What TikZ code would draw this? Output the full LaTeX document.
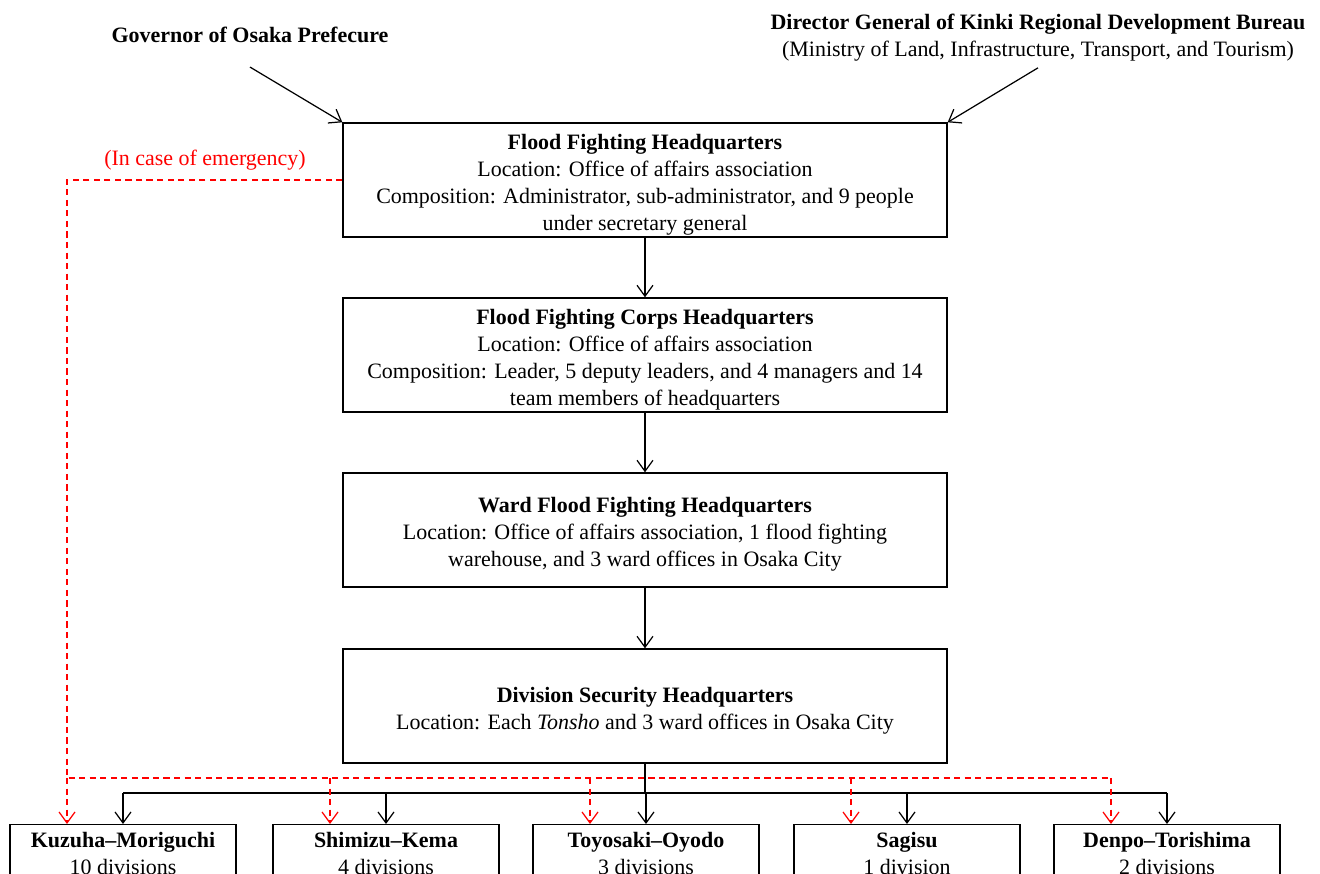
\documentclass[tikz,border=0pt]{standalone}
\usepackage{fontspec}
\setmainfont{Liberation Serif}
\usetikzlibrary{positioning, calc, arrows.meta}

\newcommand{\hqtitle}[1]{\rule{0pt}{14pt}\textbf{#1}}

\begin{document}
\begin{tikzpicture}[
    x=0.02cm, y=-0.02cm,
    hq/.style={rectangle, draw=black, line width=0.8pt, minimum width=12.08cm, minimum height=2.28cm, inner ysep=0pt, align=center, font=\fontsize{12.5}{15.4}\selectfont},
    branch/.style={rectangle, draw=black, line width=0.8pt, minimum width=4.52cm, minimum height=2cm, anchor=north, align=center, inner ysep=0.15cm, text depth=1.2cm, font=\fontsize{12.5}{15.4}\selectfont},
    arrow/.style={-{Straight Barb[length=2.2mm, width=3.2mm]}, line width=0.7pt, black},
    link/.style={line width=0.7pt, black},
    emerg/.style={red, line width=0.7pt, dash pattern=on 3.5pt off 2.5pt}
]
    \useasboundingbox (0,0) rectangle (1320,874);
    \clip (0,0) rectangle (1320,874);

    % Top authorities
    \node[font=\bfseries\fontsize{12.5}{15.4}\selectfont] (gov) at (250,35) {Governor of Osaka Prefecure};
    \node[align=center, font=\fontsize{12.5}{15.4}\selectfont] (dir) at (1038,38)
        {\textbf{Director General of Kinki Regional Development Bureau}\\(Ministry of Land, Infrastructure, Transport, and Tourism)};

    % Headquarters
    \node[hq] (fhq) at (645,180) {\hqtitle{Flood Fighting Headquarters}\\Location: Office of affairs association\\Composition: Administrator, sub-administrator, and 9 people\\under secretary general};
    \node[hq] (fchq) at (645,355) {\hqtitle{Flood Fighting Corps Headquarters}\\Location: Office of affairs association\\Composition: Leader, 5 deputy leaders, and 4 managers and 14\\team members of headquarters};
    \node[hq] (wfhq) at (645,530) {\hqtitle{Ward Flood Fighting Headquarters}\\Location: Office of affairs association, 1 flood fighting\\warehouse, and 3 ward offices in Osaka City};
    \node[hq] (dshq) at (645,706) {\hqtitle{Division Security Headquarters}\\Location: Each \textit{Tonsho} and 3 ward offices in Osaka City};

    % Divisions
    \foreach \i/\x/\name/\num in {1/123/Kuzuha--Moriguchi/10 divisions, 2/386/Shimizu--Kema/4 divisions, 3/646/Toyosaki--Oyodo/3 divisions, 4/907/Sagisu/1 division, 5/1167/Denpo--Torishima/2 divisions} {
        \node[branch] (br-\i) at (\x,824) {\textbf{\name}\\\num};
    }

    % Connections
    \draw[arrow] ([yshift=-0.36cm]gov.south) -- (fhq.north west);
    \draw[arrow] (dir.south) -- (fhq.north east);
    \draw[arrow] (fhq) -- (fchq);
    \draw[arrow] (fchq) -- (wfhq);
    \draw[arrow] (wfhq) -- (dshq);

    \coordinate (split) at (645,793);
    \draw[link] (dshq.south) -- (split);
    \draw[link] (br-1.north |- split) -- (br-5.north |- split);
    \foreach \i in {1,...,5} {
        \draw[arrow] (br-\i.north |- split) -- (br-\i.north);
    }

    % Emergency route
    \node[red, font=\fontsize{12.5}{15.4}\selectfont] (emg) at (205,160) {(In case of emergency)};
    \coordinate (ecorner) at (67,778);
    \draw[emerg] (fhq.west) -| (ecorner) -- ([xshift=-1.12cm]br-5.north |- ecorner);
    \foreach \i in {1,...,5} {
        \draw[emerg, arrow, red] ([xshift=-1.12cm]br-\i.north |- ecorner) -- ([xshift=-1.12cm]br-\i.north);
    }

\end{tikzpicture}
\end{document}
